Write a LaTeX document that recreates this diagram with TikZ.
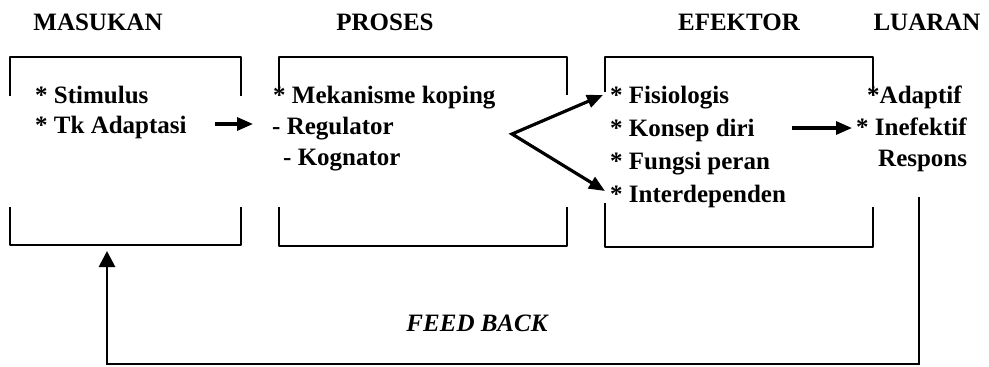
\documentclass[tikz,border=0pt]{standalone}
\usepackage{fontspec}
\setmainfont{Liberation Serif}
\usetikzlibrary{arrows.meta}
\begin{document}
\begin{tikzpicture}[x=1pt,y=-1pt]
\tikzset{
 hd/.style={font=\fontsize{25}{30}\selectfont\bfseries, anchor=base, inner sep=0pt},
 tx/.style={font=\fontsize{25}{30}\selectfont\bfseries, anchor=base west, inner sep=0pt},
 fb/.style={font=\fontsize{25}{30}\selectfont\bfseries\itshape, anchor=base, inner sep=0pt},
 brk/.style={line width=2.8pt, line join=round},
 arr/.style={line width=3.2pt, -{Triangle[length=16pt,width=13pt]}},
 darr/.style={line width=3.2pt, {Triangle[length=16pt,width=13pt]}-{Triangle[length=16pt,width=13pt]}},
}
\useasboundingbox[fill=white] (0,0) rectangle (989,367);

% headings
\node[hd] (hMas) at (98,30) {MASUKAN};
\node[hd] (hPro) at (385,30) {PROSES};
\node[hd] (hEfe) at (739,30) {EFEKTOR};
\node[hd] (hLua) at (927,30) {LUARAN};

% bracket boxes
\draw[brk] (10,96) |- (241,57) -- (241,96);
\draw[brk] (10,207) |- (241,245) -- (241,207);
\draw[brk] (279,90) |- (567,57) -- (567,95);
\draw[brk] (279,207) |- (567,246) -- (567,207);
\draw[brk] (605,92) |- (873,57) -- (873,95);
\draw[brk] (605,203) |- (873,247) -- (873,207);

% box texts
\node[tx] (stim) at (35,103) {* Stimulus};
\node[tx] (tk) at (35,133) {* Tk Adaptasi};
\node[tx] (mek) at (273,103) {* Mekanisme koping};
\node[tx] (reg) at (272,134) {- Regulator};
\node[tx] (kog) at (283,165) {- Kognator};
\node[tx] (fis) at (610,103) {* Fisiologis};
\node[tx] (kon) at (610,136) {* Konsep diri};
\node[tx] (fun) at (610,169) {* Fungsi peran};
\node[tx] (int) at (610,202) {* Interdependen};
\node[tx] (ada) at (867,103) {*Adaptif};
\node[tx] (ine) at (856,135) {* Inefektif};
\node[tx] (res) at (878,166) {Respons};
\node[fb] (feed) at (477,331) {FEED BACK};

% connectors
\coordinate (a1s) at (215,124);
\coordinate (a1e) at (253,124);
\draw[arr] (a1s) -- (a1e);

\coordinate (sp) at (512,134);
\coordinate (spU) at (603,95);
\coordinate (spD) at (605,191);
\draw[darr, line join=miter] (spU) -- (sp) -- (spD);

\coordinate (a2s) at (792,128);
\coordinate (a2e) at (852,128);
\draw[arr] (a2s) -- (a2e);

\coordinate (fbA) at (919,197);
\coordinate (fbB) at (919,364);
\coordinate (fbC) at (107,364);
\coordinate (fbD) at (107,251);
\draw[line width=2.8pt, -{Triangle[length=16pt,width=16pt]}] (fbA) -- (fbB) -- (fbC) -- (fbD);
\end{tikzpicture}
\end{document}
